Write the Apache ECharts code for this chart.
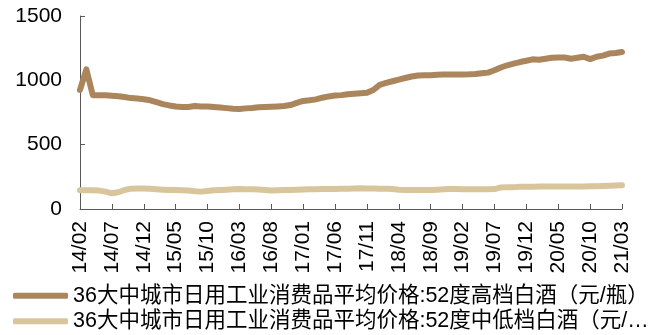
<!DOCTYPE html>
<html>
<head>
<meta charset="utf-8">
<script src="https://cdn.jsdelivr.net/npm/echarts@6/dist/echarts.min.js"></script>
<style>
html,body{margin:0;padding:0;background:#fff;}
#main{width:657px;height:335px;}
</style>
</head>
<body>
<div id="main"></div>
<script>
// 月份 14/02 ~ 21/03
var months = [];
for (var y = 14, m = 2; y < 21 || (y == 21 && m <= 3); ) {
    months.push(y + '/' + (m < 10 ? '0' + m : m));
    m++;
    if (m > 12) { m = 1; y++; }
}

var seriesNames = [
    '36大中城市日用工业消费品平均价格:52度高档白酒（元/瓶）',
    '36大中城市日用工业消费品平均价格:52度中低档白酒（元/瓶）'
];

var highData = [
    925, 1085, 885, 885, 884, 880, 877, 870, 862, 858,
    853, 845, 830, 815, 805, 797, 792, 793, 800, 797,
    797, 792, 788, 784, 780, 778, 782, 785, 790, 793,
    795, 797, 800, 808, 825, 840, 845, 852, 865, 875,
    882, 885, 892, 896, 899, 903, 925, 965, 980, 993,
    1005, 1018, 1030, 1038, 1040, 1040, 1043, 1045, 1045, 1046,
    1046, 1047, 1050, 1055, 1060, 1078, 1100, 1117, 1130, 1142,
    1152, 1163, 1160, 1168, 1175, 1177, 1177, 1168, 1175, 1183,
    1165, 1183, 1192, 1208, 1212, 1220
];

var lowData = [
    145, 145, 145, 143, 135, 122, 130, 148, 158, 160,
    160, 157, 153, 150, 148, 147, 145, 143, 138, 135,
    140, 145, 148, 150, 153, 155, 153, 153, 152, 148,
    143, 145, 147, 148, 150, 152, 153, 154, 155, 156,
    156, 157, 158, 160, 161, 160, 160, 158, 157, 156,
    150, 148, 148, 148, 148, 148, 150, 153, 156, 155,
    153, 153, 153, 153, 153, 155, 168, 170, 170, 172,
    172, 173, 174, 174, 174, 174, 174, 175, 175, 175,
    176, 177, 179, 181, 183, 185
];

var yTicks = { min: 0, max: 1500, interval: 500 };

var myChart = echarts.init(document.getElementById('main'));

var axisColor = '#595959';
var font = '"Liberation Sans", Arial, sans-serif';

var option = {
    animation: false,
    color: ['#AB855B', '#D8C59C'],
    grid: {
        left: 80,
        right: 35,
        top: 16,
        bottom: 126
    },
    legend: {
        orient: 'vertical',
        left: 8,
        top: 280,
        height: 80,
        itemWidth: 55,
        itemHeight: 6,
        itemGap: 4,
        icon: 'roundRect',
        data: seriesNames,
        textStyle: {
            color: '#000',
            fontSize: 21.5,
            fontFamily: '"Liberation Sans", "Noto Sans CJK SC", sans-serif',
            width: 582,
            overflow: 'truncate',
            ellipsis: '…'
        }
    },
    xAxis: {
        type: 'category',
        boundaryGap: false,
        data: months,
        axisLine: { lineStyle: { color: axisColor, width: 1 } },
        axisTick: {
            inside: true,
            length: 5,
            interval: 4,
            lineStyle: { color: axisColor }
        },
        axisLabel: {
            interval: 4,
            rotate: 90,
            margin: 12,
            color: '#000',
            fontSize: 21,
            fontFamily: font
        },
        splitLine: { show: false }
    },
    yAxis: {
        type: 'value',
        min: yTicks.min,
        max: yTicks.max,
        interval: yTicks.interval,
        axisLine: { show: true, lineStyle: { color: axisColor, width: 1 } },
        axisTick: {
            show: true,
            inside: true,
            length: 5,
            lineStyle: { color: axisColor }
        },
        axisLabel: {
            margin: 18,
            color: '#000',
            fontSize: 21,
            fontFamily: font,
            formatter: function (val) {
                return String(val);
            }
        },
        splitLine: { show: false }
    },
    series: [
        {
            name: seriesNames[0],
            type: 'line',
            data: highData,
            showSymbol: false,
            symbol: 'none',
            lineStyle: { width: 6, cap: 'round', join: 'round' }
        },
        {
            name: seriesNames[1],
            type: 'line',
            data: lowData,
            showSymbol: false,
            symbol: 'none',
            lineStyle: { width: 6, cap: 'round', join: 'round' }
        }
    ]
};

myChart.setOption(option);

window.onresize = function () {
    myChart.resize();
};
</script>
</body>
</html>
